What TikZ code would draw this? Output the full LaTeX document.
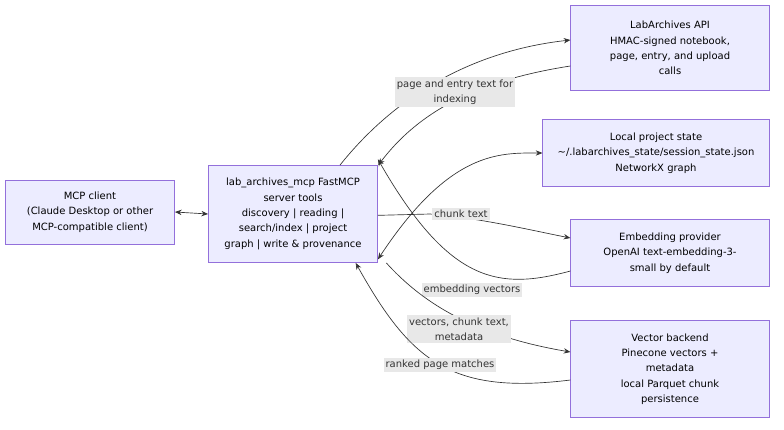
\documentclass[tikz,border=0pt]{standalone}
\usepackage{fontspec}
\setmainfont{DejaVu Sans}
\usetikzlibrary{arrows.meta}
\definecolor{boxfill}{HTML}{ECECFF}
\definecolor{boxline}{HTML}{9370DB}
\definecolor{lblfill}{HTML}{E8E8E8}
\definecolor{edgecol}{HTML}{333333}
\begin{document}
\begin{tikzpicture}
		[x=0.75pt,y=-0.75pt,
		font=\fontsize{7.5}{11.5}\selectfont,
		box/.style={draw=boxline,fill=boxfill,align=center,inner sep=0pt},
		lbl/.style={fill=lblfill,align=center,inner sep=1.5pt,text=edgecol},
		edge/.style={draw=edgecol,line width=0.5pt,-{Stealth[length=5pt,width=4pt]}}]
		\useasboundingbox (0,0) rectangle (784,429);
		% nodes
		\node[box,minimum width=127pt,minimum height=48pt] (client) at (90,212)
			{MCP client\\(Claude Desktop or other\\MCP-compatible client)};
		\node[box,minimum width=127pt,minimum height=73pt] (server) at (293,214)
			{lab\_archives\_mcp FastMCP\\server tools\\discovery | reading |\\search/index | project\\graph | write \& provenance};
		\node[box,minimum width=149pt,minimum height=64pt] (api) at (670,48)
			{LabArchives API\\HMAC-signed notebook,\\page, entry, and upload\\calls};
		\node[box,minimum width=170pt,minimum height=50pt] (state) at (656,153)
			{Local project state\\\textasciitilde/.labarchives\_state/session\_state.json\\NetworkX graph};
		\node[box,minimum width=149pt,minimum height=50pt] (embed) at (670,253)
			{Embedding provider\\OpenAI text-embedding-3-\\small by default};
		\node[box,minimum width=149pt,minimum height=73pt] (vector) at (670,369)
			{Vector backend\\Pinecone vectors +\\metadata\\local Parquet chunk\\persistence};
		% connectors
		\draw[edge,{Stealth[length=5pt,width=4pt]}-{Stealth[length=5pt,width=4pt]}] (client.east) -- (server.west);
		\draw[edge] (server.north)++(47,0) coordinate (s1) (s1) .. controls (400,90) and (480,50) .. (api.west|-0,40);
		\draw[edge] (api.west|-0,66) .. controls (480,80) and (420,110) .. ([xshift=64]server.north);
		\node[lbl] (l1) at (455,92) {page and entry text for\\indexing};
		\draw[edge,{Stealth[length=5pt,width=4pt]}-{Stealth[length=5pt,width=4pt]}] ([yshift=-34]server.east) .. controls (450,150) and (500,153) .. (state.west);
		\draw[edge] ([yshift=-1]server.east) -- (430,214) .. controls (480,218) and (530,230) .. (embed.west|-0,238);
		\node[lbl] (l2) at (461,214) {chunk text};
		\draw[edge] (embed.west|-0,271) .. controls (500,290) and (450,285) .. ([yshift=41]server.east);
		\node[lbl] (l3) at (472,290) {embedding vectors};
		\draw[edge] ([xshift=70]server.south) .. controls (420,300) and (470,335) .. (vector.west|-0,352);
		\node[lbl] (l4) at (459,329) {vectors, chunk text,\\metadata};
		\draw[edge] (vector.west|-0,380) .. controls (450,395) and (410,360) .. ([xshift=47]server.south);
		\node[lbl] (l5) at (440,365) {ranked page matches};
	\end{tikzpicture}
\end{document}
